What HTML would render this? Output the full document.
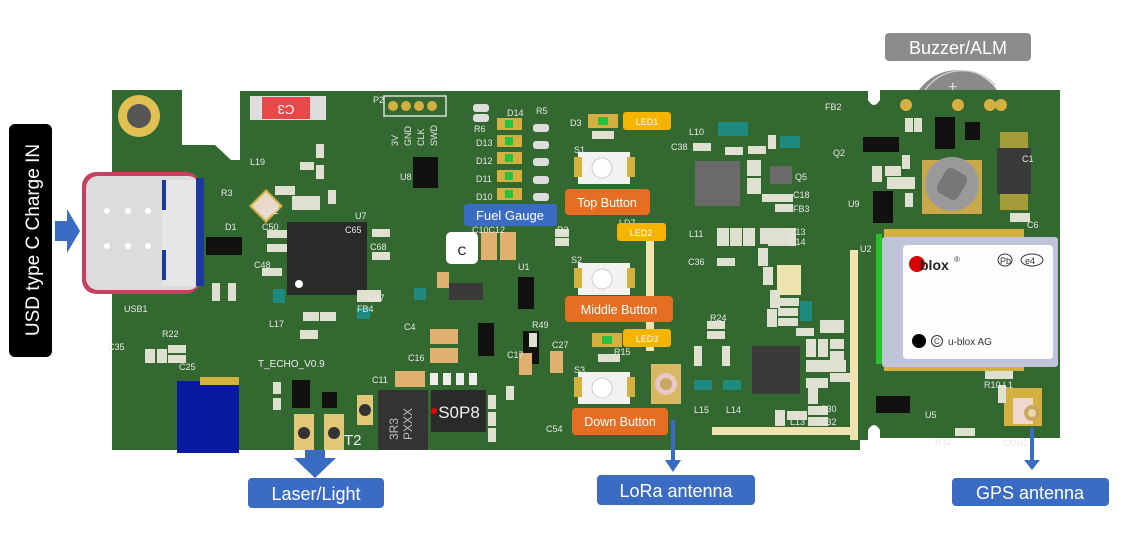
<!DOCTYPE html>
<html><head><meta charset="utf-8"><style>
html,body{margin:0;padding:0;background:#fff;}
svg{display:block;}
text{font-family:"Liberation Sans",sans-serif;}
.lb{font-family:"Liberation Sans",sans-serif;fill:#fff;}
.sl{font-size:9px;fill:#e8e8e8;}
</style></head><body>
<svg width="1129" height="537" viewBox="0 0 1129 537" xmlns="http://www.w3.org/2000/svg">
<rect width="1129" height="537" fill="#fff"/>
<!-- buzzer behind board -->
<circle cx="958" cy="118" r="48" fill="#8a8a8a"/>
<path d="M925,90 A45,45 0 0 1 995,85" stroke="#ccc" stroke-width="1.5" fill="none"/>
<text x="948" y="92" font-size="16" fill="#ddd">+</text>
<!-- board -->
<path d="M112,90 L182,90 L182,145 L215,145 L231,160 L240,160 L240,91 L868,91 L868,100 Q874,110 880,100 L880,90 L1060,90 L1060,438 L880,438 L880,430 Q874,420 868,430 L868,440 L860,440 L860,450 L112,450 Z" fill="#336830"/>
<!-- mounting hole -->
<circle cx="139" cy="116" r="21" fill="#e0c050"/><circle cx="139" cy="116" r="12" fill="#555"/>
<!-- C3 fuse -->
<rect x="250" y="96" width="76" height="24" fill="#ddd"/><rect x="262" y="97" width="48" height="22" fill="#e84848"/>
<text x="286" y="113" font-size="13" fill="#fff" text-anchor="middle" transform="rotate(180 286 109)">C3</text>
<!-- P2 header -->
<rect x="384" y="96" width="62" height="20" fill="none" stroke="#ddd" stroke-width="1.5"/>
<g fill="#d4b040"><circle cx="393" cy="106" r="5"/><circle cx="406" cy="106" r="5"/><circle cx="419" cy="106" r="5"/><circle cx="432" cy="106" r="5"/></g>
<text x="373" y="103" class="sl">P2</text>
<g class="sl" font-size="11"><text transform="translate(398,146) rotate(-90)">3V</text><text transform="translate(411,146) rotate(-90)">GND</text><text transform="translate(424,146) rotate(-90)">CLK</text><text transform="translate(437,146) rotate(-90)">SWD</text></g>
<!-- USB connector -->
<rect x="82" y="172" width="118" height="122" rx="14" fill="#c84060"/>
<rect x="86" y="176" width="114" height="114" rx="12" fill="#dcdcdc"/>
<rect x="162" y="180" width="38" height="106" fill="#e6e6e6"/>
<rect x="162" y="180" width="4" height="30" fill="#1a3aa0"/><rect x="162" y="250" width="4" height="30" fill="#1a3aa0"/>
<rect x="196" y="178" width="8" height="108" fill="#1a3aa0"/>
<g fill="#fff"><circle cx="107" cy="211" r="3"/><circle cx="128" cy="211" r="3"/><circle cx="148" cy="211" r="3"/><circle cx="107" cy="246" r="3"/><circle cx="128" cy="246" r="3"/><circle cx="148" cy="246" r="3"/></g>
<text x="124" y="312" class="sl">USB1</text>
<!-- U7 -->
<rect x="287" y="222" width="80" height="73" fill="#2a2a2a"/><circle cx="299" cy="284" r="4" fill="#fff"/>
<text x="355" y="219" class="sl">U7</text>
<rect x="255" y="195" width="22" height="22" fill="#e8d8c8" stroke="#d4b040" stroke-width="2" transform="rotate(45 266 206)"/>
<rect x="206" y="237" width="36" height="18" fill="#111"/><text x="225" y="230" class="sl">D1</text>
<rect x="446" y="232" width="32" height="32" rx="5" fill="#fff"/><text x="462" y="255" font-size="12" fill="#000" text-anchor="middle">C</text>
<rect x="481" y="232" width="16" height="28" fill="#e0b070"/><rect x="500" y="232" width="16" height="28" fill="#e0b070"/>
<rect x="413" y="157" width="25" height="31" fill="#111"/><text x="400" y="180" class="sl">U8</text>
<g fill="#d4b040"><rect x="497" y="118" width="25" height="12"/><rect x="497" y="135" width="25" height="12"/><rect x="497" y="152" width="25" height="12"/><rect x="497" y="170" width="25" height="12"/><rect x="497" y="188" width="25" height="12"/></g>
<g fill="#28c040"><rect x="505" y="120" width="8" height="8"/><rect x="505" y="137" width="8" height="8"/><rect x="505" y="154" width="8" height="8"/><rect x="505" y="172" width="8" height="8"/><rect x="505" y="190" width="8" height="8"/></g>
<g class="sl"><text x="507" y="116">D14</text><text x="476" y="146">D13</text><text x="476" y="164">D12</text><text x="476" y="182">D11</text><text x="476" y="200">D10</text></g>
<g fill="#ddd"><rect x="533" y="124" width="16" height="8" rx="3"/><rect x="533" y="141" width="16" height="8" rx="3"/><rect x="533" y="158" width="16" height="8" rx="3"/><rect x="533" y="176" width="16" height="8" rx="3"/><rect x="533" y="193" width="16" height="8" rx="3"/><rect x="473" y="104" width="16" height="8" rx="3"/><rect x="473" y="114" width="16" height="8" rx="3"/></g>
<rect x="449" y="283" width="34" height="17" fill="#3a3a3a"/>
<rect x="518" y="277" width="16" height="32" fill="#111"/>
<rect x="478" y="323" width="16" height="33" fill="#111"/>
<rect x="523" y="331" width="16" height="33" fill="#111"/>
<g fill="#e0b070"><rect x="430" y="329" width="28" height="15"/><rect x="430" y="348" width="28" height="15"/><rect x="395" y="371" width="30" height="16"/><rect x="437" y="272" width="12" height="16"/><rect x="519" y="353" width="13" height="22"/><rect x="550" y="351" width="13" height="22"/></g>
<rect x="430" y="373" width="8" height="12" fill="#eee"/><rect x="443" y="373" width="8" height="12" fill="#eee"/><rect x="456" y="373" width="8" height="12" fill="#eee"/><rect x="469" y="373" width="8" height="12" fill="#eee"/>
<rect x="431" y="390" width="55" height="42" fill="#2a2a2a"/><circle cx="434" cy="411" r="3" fill="#e00"/>
<text x="459" y="418" font-size="17" fill="#eee" text-anchor="middle" font-family="Liberation Serif,serif">S0P8</text>
<rect x="378" y="390" width="50" height="60" fill="#333"/>
<text transform="translate(398,440) rotate(-90)" font-size="12" fill="#bbb" font-family="Liberation Serif,serif">3R3</text>
<text transform="translate(412,440) rotate(-90)" font-size="12" fill="#bbb" font-family="Liberation Serif,serif">PXXX</text>
<rect x="177" y="381" width="62" height="72" fill="#0a1aa0"/><rect x="200" y="377" width="39" height="8" fill="#d4b040"/>
<rect x="292" y="380" width="18" height="28" fill="#111"/><rect x="322" y="392" width="15" height="16" fill="#111"/>
<rect x="294" y="414" width="20" height="36" fill="#e0c878"/><circle cx="304" cy="433" r="6" fill="#333"/>
<rect x="324" y="414" width="20" height="36" fill="#e0c878"/><circle cx="334" cy="433" r="6" fill="#333"/>
<text x="344" y="445" font-size="15" fill="#eee">T2</text>
<rect x="357" y="395" width="16" height="30" fill="#e0c878"/><circle cx="365" cy="410" r="6" fill="#333"/>
<text x="258" y="367" font-size="10" fill="#eee">T_ECHO_V0.9</text>
<g>
<rect x="578" y="152" width="52" height="32" fill="#f2f2f2"/><rect x="574" y="157" width="8" height="20" fill="#d4b040"/><rect x="627" y="157" width="8" height="20" fill="#d4b040"/><circle cx="602" cy="168" r="10" fill="#fff" stroke="#ccc"/>
<rect x="578" y="263" width="52" height="32" fill="#f2f2f2"/><rect x="574" y="268" width="8" height="20" fill="#d4b040"/><rect x="627" y="268" width="8" height="20" fill="#d4b040"/><circle cx="602" cy="279" r="10" fill="#fff" stroke="#ccc"/>
<rect x="578" y="372" width="52" height="32" fill="#f2f2f2"/><rect x="574" y="377" width="8" height="20" fill="#d4b040"/><rect x="627" y="377" width="8" height="20" fill="#d4b040"/><circle cx="602" cy="388" r="10" fill="#fff" stroke="#ccc"/>
</g>
<g class="sl" font-size="11"><text x="574" y="153">S1</text><text x="571" y="263">S2</text><text x="574" y="373">S3</text></g>
<rect x="588" y="114" width="30" height="14" fill="#d4b040"/><rect x="598" y="117" width="10" height="8" fill="#28c040"/>
<rect x="592" y="333" width="30" height="14" fill="#d4b040"/><rect x="602" y="336" width="10" height="8" fill="#28c040"/>
<text x="570" y="126" class="sl">D3</text>
<rect x="646" y="241" width="8" height="110" fill="#efe4b0"/>
<rect x="850" y="250" width="8" height="190" fill="#efe4b0"/>
<rect x="712" y="427" width="146" height="8" fill="#efe4b0"/>
<rect x="777" y="265" width="24" height="30" fill="#efe4b0"/>
<rect x="651" y="364" width="30" height="40" fill="#d8b860"/><circle cx="666" cy="384" r="11" fill="#e8c8c8"/><circle cx="666" cy="384" r="6" fill="#c8a860"/>
<rect x="695" y="161" width="45" height="45" fill="#6a6a6a"/>
<rect x="752" y="346" width="48" height="48" fill="#3a3a3a"/>
<rect x="770" y="166" width="22" height="18" fill="#6a6a6a"/>
<rect x="718" y="122" width="30" height="14" fill="#1f8a80"/><rect x="780" y="136" width="20" height="12" fill="#1f8a80"/>
<rect x="800" y="301" width="12" height="20" fill="#1f8a80"/><rect x="694" y="380" width="18" height="10" fill="#1f8a80"/><rect x="723" y="380" width="18" height="10" fill="#1f8a80"/>
<rect x="273" y="289" width="12" height="14" fill="#1f8a80"/><rect x="357" y="307" width="13" height="12" fill="#1f8a80"/><rect x="414" y="288" width="12" height="12" fill="#1f8a80"/>
<g fill="#e0e0d0">
<rect x="300" y="162" width="14" height="8"/><rect x="316" y="144" width="8" height="14"/><rect x="316" y="165" width="8" height="14"/><rect x="275" y="186" width="20" height="9"/><rect x="292" y="196" width="28" height="14"/><rect x="328" y="190" width="8" height="14"/>
<rect x="267" y="230" width="20" height="8"/><rect x="267" y="244" width="20" height="8"/><rect x="262" y="268" width="20" height="8"/><rect x="212" y="283" width="8" height="18"/><rect x="228" y="283" width="8" height="18"/>
<rect x="145" y="349" width="10" height="14"/><rect x="157" y="349" width="10" height="14"/><rect x="168" y="345" width="18" height="8"/><rect x="168" y="355" width="18" height="8"/>
<rect x="273" y="382" width="8" height="12"/><rect x="273" y="398" width="8" height="12"/>
<rect x="372" y="229" width="18" height="8"/><rect x="372" y="252" width="18" height="8"/><rect x="357" y="290" width="24" height="12"/><rect x="303" y="312" width="16" height="9"/><rect x="320" y="312" width="16" height="9"/><rect x="300" y="330" width="18" height="9"/>
<rect x="555" y="229" width="14" height="8"/><rect x="555" y="238" width="14" height="8"/><rect x="592" y="131" width="22" height="8"/><rect x="598" y="354" width="22" height="8"/>
<rect x="693" y="143" width="18" height="8"/><rect x="725" y="147" width="18" height="8"/><rect x="748" y="146" width="18" height="8"/><rect x="768" y="135" width="8" height="14"/><rect x="747" y="160" width="14" height="16"/><rect x="747" y="178" width="14" height="16"/><rect x="762" y="194" width="16" height="8"/><rect x="775" y="194" width="18" height="8"/><rect x="775" y="204" width="18" height="8"/>
<rect x="717" y="228" width="12" height="18"/><rect x="730" y="228" width="12" height="18"/><rect x="743" y="228" width="12" height="18"/><rect x="760" y="228" width="12" height="16"/><rect x="768" y="228" width="16" height="18"/><rect x="780" y="228" width="16" height="18"/><rect x="717" y="258" width="18" height="8"/><rect x="758" y="248" width="10" height="18"/><rect x="763" y="267" width="10" height="18"/><rect x="770" y="290" width="10" height="18"/><rect x="775" y="298" width="24" height="8"/><rect x="767" y="309" width="10" height="18"/><rect x="778" y="308" width="20" height="8"/><rect x="778" y="318" width="20" height="8"/><rect x="796" y="328" width="18" height="8"/>
<rect x="707" y="321" width="18" height="8"/><rect x="707" y="331" width="18" height="8"/><rect x="694" y="346" width="8" height="20"/><rect x="722" y="346" width="8" height="20"/>
<rect x="820" y="320" width="24" height="13"/><rect x="806" y="339" width="10" height="18"/><rect x="818" y="339" width="10" height="18"/><rect x="830" y="339" width="14" height="10"/><rect x="830" y="351" width="14" height="10"/><rect x="806" y="360" width="40" height="12"/><rect x="830" y="373" width="20" height="9"/><rect x="806" y="378" width="22" height="10"/><rect x="808" y="388" width="10" height="16"/><rect x="808" y="406" width="20" height="9"/><rect x="808" y="417" width="20" height="9"/><rect x="775" y="410" width="10" height="16"/><rect x="787" y="411" width="20" height="9"/>
<rect x="488" y="395" width="8" height="14"/><rect x="488" y="412" width="8" height="14"/><rect x="488" y="428" width="8" height="14"/><rect x="506" y="386" width="8" height="14"/><rect x="529" y="333" width="8" height="14"/>
</g>
<!-- Right section -->
<circle cx="906" cy="105" r="6" fill="#d4b040"/><circle cx="958" cy="105" r="6" fill="#d4b040"/><circle cx="990" cy="105" r="6" fill="#d4b040"/><circle cx="1001" cy="105" r="6" fill="#d4b040"/>
<rect x="863" y="137" width="36" height="15" fill="#111"/>
<rect x="935" y="117" width="20" height="32" fill="#111"/><rect x="965" y="122" width="15" height="18" fill="#111"/>
<rect x="922" y="160" width="60" height="54" fill="#c8a84a"/><circle cx="952" cy="184" r="27" fill="#9a9a9a"/><rect x="940" y="170" width="24" height="28" rx="6" fill="#777" transform="rotate(30 952 184)"/>
<rect x="997" y="148" width="34" height="46" fill="#3a3a3a"/><rect x="1000" y="132" width="28" height="16" fill="#d4b040" opacity=".7"/><rect x="1000" y="194" width="28" height="16" fill="#d4b040" opacity=".7"/>
<rect x="873" y="191" width="20" height="32" fill="#111"/>
<rect x="876" y="396" width="34" height="17" fill="#111"/>
<rect x="1004" y="388" width="38" height="38" fill="#d4b040"/><rect x="1013" y="398" width="20" height="26" fill="#f0d8d0"/><circle cx="1032" cy="413" r="8" fill="#c8a860"/><circle cx="1032" cy="413" r="4" fill="#e8d8a8"/>
<g fill="#e0e0d0"><rect x="905" y="118" width="8" height="14"/><rect x="914" y="118" width="8" height="14"/><rect x="902" y="155" width="8" height="14"/><rect x="872" y="166" width="10" height="16"/><rect x="885" y="166" width="16" height="10"/><rect x="887" y="177" width="28" height="12"/><rect x="905" y="193" width="8" height="14"/><rect x="1010" y="213" width="20" height="9"/><rect x="985" y="370" width="28" height="9"/><rect x="998" y="385" width="8" height="18"/><rect x="955" y="428" width="20" height="8"/></g>
<g fill="#d4b040"><rect x="884" y="229" width="140" height="9"/><rect x="884" y="362" width="140" height="9"/></g>
<rect x="876" y="234" width="6" height="130" fill="#2ac02a"/>
<rect x="882" y="237" width="176" height="130" rx="3" fill="#c0c4d8"/>
<rect x="903" y="245" width="150" height="114" rx="4" fill="#fdfdfd"/>
<circle cx="917" cy="264" r="8" fill="#d80000"/>
<text x="920" y="270" font-size="14" font-weight="bold" fill="#222">blox</text><text x="954" y="262" font-size="8" fill="#444">®</text>
<ellipse cx="1005" cy="260" rx="7" ry="6" fill="none" stroke="#333"/><text x="1000" y="264" font-size="9" fill="#333">Pb</text>
<ellipse cx="1032" cy="260" rx="11" ry="6" fill="none" stroke="#333"/><text x="1025" y="264" font-size="9" fill="#333">e4</text>
<circle cx="919" cy="341" r="7" fill="#000"/><circle cx="937" cy="341" r="5.5" fill="none" stroke="#333"/><text x="934" y="344" font-size="8" fill="#333">C</text>
<text x="948" y="345" font-size="10" fill="#333">u-blox AG</text>
<g class="sl"><text x="833" y="156">Q2</text><text x="1022" y="162">C1</text><text x="848" y="207">U9</text><text x="860" y="252">U2</text><text x="1027" y="228">C6</text><text x="925" y="418">U5</text><text x="1003" y="446">CON1</text><text x="935" y="445">R32</text><text x="984" y="388">R10 L1</text><text x="825" y="110">FB2</text><text x="795" y="180">Q5</text><text x="793" y="198">C18</text><text x="793" y="212">FB3</text><text x="789" y="235">C13</text><text x="789" y="245">C14</text><text x="689" y="135">L10</text><text x="671" y="150">C38</text><text x="689" y="237">L11</text><text x="688" y="265">C36</text><text x="710" y="321">R24</text><text x="694" y="413">L15</text><text x="726" y="413">L14</text><text x="820" y="412">C30</text><text x="820" y="425">C32</text><text x="790" y="425">L13</text><text x="614" y="355">R15</text><text x="557" y="233">R2</text><text x="619" y="226">LD7</text><text x="546" y="432">C54</text><text x="345" y="233">C65</text><text x="370" y="250">C68</text><text x="368" y="301">C67</text><text x="357" y="312">FB4</text><text x="269" y="327">L17</text><text x="250" y="165">L19</text><text x="108" y="350">C35</text><text x="162" y="337">R22</text><text x="179" y="370">C25</text><text x="404" y="330">C4</text><text x="408" y="361">C16</text><text x="372" y="383">C11</text><text x="536" y="114">R5</text><text x="474" y="132">R6</text><text x="552" y="348">C27</text><text x="507" y="358">C17</text><text x="532" y="328">R49</text><text x="518" y="270">U1</text><text x="472" y="233">C10C12</text><text x="262" y="230">C50</text><text x="262" y="214">C52</text><text x="254" y="268">C48</text><text x="221" y="196">R3</text></g>
<!-- Label boxes -->
<rect x="9" y="124" width="43" height="233" rx="6" fill="#000"/>
<text class="lb" font-size="19" transform="translate(39,240) rotate(-90)" text-anchor="middle">USD type C Charge IN</text>
<path d="M55,221 L67,221 L67,209 L80,231 L67,253 L67,241 L55,241 Z" fill="#3b6cc4"/>
<rect x="885" y="33" width="146" height="28" rx="4" fill="#8c8c8c"/>
<text class="lb" x="958" y="54" font-size="18" text-anchor="middle">Buzzer/ALM</text>
<rect x="464" y="204" width="93" height="22" rx="3" fill="#3b6cc4"/>
<text class="lb" x="510" y="220" font-size="13" text-anchor="middle">Fuel Gauge</text>
<rect x="565" y="189" width="85" height="26" rx="4" fill="#e66e22"/>
<text class="lb" x="607" y="207" font-size="12.5" text-anchor="middle">Top Button</text>
<rect x="565" y="296" width="108" height="26" rx="4" fill="#e66e22"/>
<text class="lb" x="619" y="314" font-size="12.5" text-anchor="middle">Middle Button</text>
<rect x="572" y="408" width="96" height="27" rx="4" fill="#e66e22"/>
<text class="lb" x="620" y="426" font-size="12.5" text-anchor="middle">Down Button</text>
<rect x="623" y="112" width="48" height="18" rx="3" fill="#f4b400"/><text class="lb" x="647" y="125" font-size="9" text-anchor="middle">LED1</text>
<rect x="617" y="223" width="49" height="18" rx="3" fill="#f4b400"/><text class="lb" x="641" y="236" font-size="9" text-anchor="middle">LED2</text>
<rect x="623" y="329" width="48" height="18" rx="3" fill="#f4b400"/><text class="lb" x="647" y="342" font-size="9" text-anchor="middle">LED3</text>
<path d="M305,450 L325,450 L325,458 L336,458 L315,478 L294,458 L305,458 Z" fill="#3b6cc4"/>
<rect x="248" y="478" width="136" height="30" rx="4" fill="#3b6cc4"/>
<text class="lb" x="316" y="500" font-size="18" text-anchor="middle">Laser/Light</text>
<path d="M671,420 L675,420 L675,460 L681,460 L673,472 L665,460 L671,460 Z" fill="#3b6cc4"/>
<rect x="597" y="475" width="158" height="30" rx="4" fill="#3b6cc4"/>
<text class="lb" x="676" y="497" font-size="18" text-anchor="middle">LoRa antenna</text>
<path d="M1030,428 L1034,428 L1034,460 L1040,460 L1032,470 L1024,460 L1030,460 Z" fill="#3b6cc4"/>
<rect x="952" y="478" width="157" height="28" rx="4" fill="#3b6cc4"/>
<text class="lb" x="1030" y="499" font-size="18" text-anchor="middle">GPS antenna</text>
</svg>
</body></html>
